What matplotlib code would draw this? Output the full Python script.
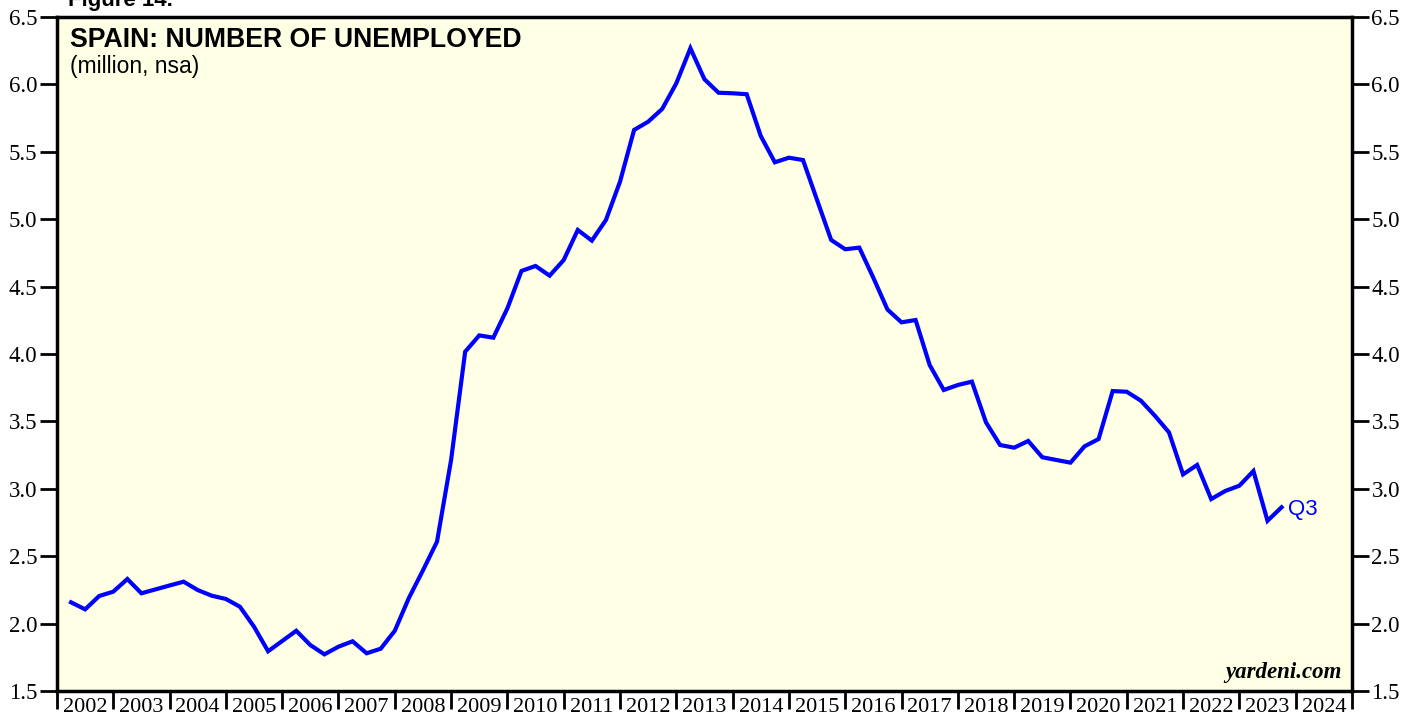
import matplotlib.pyplot as plt
import numpy as np

# quarterly, 2002 Q1 .. 2023 Q3 (million, nsa)
unemployed = [
    2.158, 2.106, 2.205, 2.237,
    2.331, 2.225, 2.254, 2.283,
    2.311, 2.249, 2.207, 2.183,
    2.125, 1.977, 1.795, 1.871,
    1.947, 1.841, 1.772, 1.829,
    1.869, 1.780, 1.814, 1.947,
    2.190, 2.395, 2.608, 3.214,
    4.017, 4.138, 4.121, 4.339,
    4.616, 4.653, 4.581, 4.697,
    4.920, 4.841, 4.994, 5.278,
    5.662, 5.723, 5.818, 6.008,
    6.268, 6.038, 5.938, 5.934,
    5.927, 5.617, 5.422, 5.456,
    5.439, 5.142, 4.846, 4.777,
    4.789, 4.565, 4.330, 4.235,
    4.252, 3.918, 3.733, 3.770,
    3.795, 3.493, 3.325, 3.305,
    3.355, 3.234, 3.214, 3.194,
    3.315, 3.369, 3.725, 3.720,
    3.654, 3.542, 3.419, 3.107,
    3.177, 2.924, 2.984, 3.023,
    3.132, 2.763, 2.863,
]
start_year = 2002
years = list(range(2002, 2025))
y_ticks = [1.5, 2.0, 2.5, 3.0, 3.5, 4.0, 4.5, 5.0, 5.5, 6.0, 6.5]

# points plotted at the end of each quarter
x = start_year + (np.arange(len(unemployed)) + 1) / 4.0

fig = plt.figure(figsize=(14.17, 7.19), dpi=100)
ax = fig.add_axes([0.0402, 0.0389, 0.9139, 0.9375])
ax.set_facecolor('#FFFFE6')

ax.plot(x, unemployed, color='#0000FF', linewidth=3.0, solid_joinstyle='miter')
ax.text(x[-1] + 0.12, unemployed[-1] - 0.02, 'Q3', color='#0000FF', fontsize=16,
        family='Liberation Sans', va='center', ha='left')

ax.set_xlim(2002, 2025)
ax.set_ylim(1.5, 6.5)

# year boundaries as ticks, labels centred in each year
ax.set_xticks(range(2002, 2026))
ax.set_xticks([yr + 0.5 for yr in years], minor=True)
ax.set_xticklabels([])
ax.set_xticklabels([str(yr) for yr in years], minor=True, family='Liberation Serif', fontsize=16)
ax.tick_params(axis='x', which='major', length=13, width=2, direction='out')
ax.tick_params(axis='x', which='minor', length=0, pad=5)

ax.set_yticks(y_ticks)
ax.set_yticklabels(['%.1f' % v for v in y_ticks], family='Liberation Serif', fontsize=16.5)
ax.tick_params(axis='y', length=12, width=2, direction='out', left=True, right=True,
               labelleft=True, labelright=True, pad=2)

for s in ax.spines.values():
    s.set_linewidth(2.5)

ax.text(0.01, 0.985, 'SPAIN: NUMBER OF UNEMPLOYED', transform=ax.transAxes,
        fontsize=19.2, fontweight='bold', family='Liberation Sans', va='top', ha='left')
ax.text(0.01, 0.943, '(million, nsa)', transform=ax.transAxes,
        fontsize=16.5, family='Liberation Sans', va='top', ha='left')
ax.text(0.992, 0.012, 'yardeni.com', transform=ax.transAxes, fontsize=16.5,
        fontweight='bold', style='italic', family='Liberation Serif', va='bottom', ha='right')

fig.text(0.048, 0.992, 'Figure 14.', fontsize=16, fontweight='bold', family='Liberation Sans',
         va='baseline', ha='left')

plt.savefig('out.png', dpi=100)
